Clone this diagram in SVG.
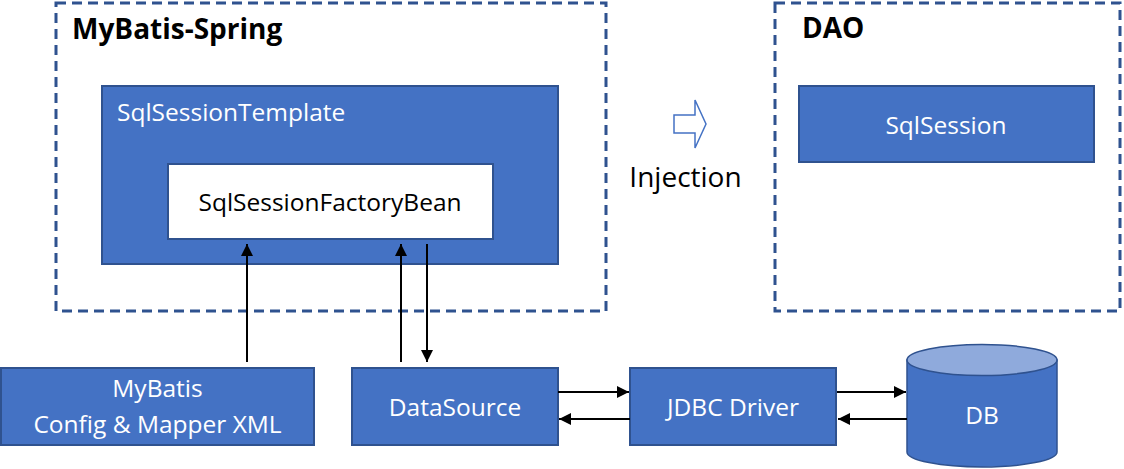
<svg xmlns="http://www.w3.org/2000/svg" width="1124" height="469" viewBox="0 0 1124 469">
<style>
.box{fill:#4472C4;stroke:#2F528F;stroke-width:2}
.grp{fill:none;stroke:#2F528F;stroke-width:3;stroke-dasharray:10 6}
.lbl{font-family:"Open Sans","Noto Sans",sans-serif;font-size:24.5px;fill:#FFFFFF;text-anchor:middle}
.ttl{font-family:"Open Sans","Noto Sans",sans-serif;font-size:28px;font-weight:bold;fill:#000000}
.ln{stroke:#000000;stroke-width:2;fill:none;marker-end:url(#ah)}
</style>
<defs>
<marker id="ah" viewBox="0 0 10 10" refX="10" refY="5" markerWidth="6" markerHeight="6" orient="auto" markerUnits="strokeWidth">
<path d="M0,0 L10,5 L0,10 Z" fill="#000000"/>
</marker>
</defs>
<rect width="1124" height="469" fill="#FFFFFF"/>
<g id="mybatis-spring">
<rect class="grp" x="56" y="3" width="550" height="308"/>
<text class="ttl" x="72" y="39">MyBatis-Spring</text>
</g>
<g id="dao">
<rect class="grp" x="775" y="3" width="345" height="308"/>
<text class="ttl" x="802" y="38">DAO</text>
</g>
<g id="sqlsessiontemplate">
<rect class="box" x="102" y="86" width="456" height="178"/>
<text class="lbl" x="117" y="120.5" style="text-anchor:start">SqlSessionTemplate</text>
</g>
<g id="sqlsessionfactorybean">
<rect x="168" y="164" width="325" height="75" fill="#FFFFFF" stroke="#2F528F" stroke-width="2"/>
<text class="lbl" x="330" y="211" style="fill:#000000">SqlSessionFactoryBean</text>
</g>
<g id="sqlsession">
<rect class="box" x="799" y="86" width="295" height="76"/>
<text class="lbl" x="946" y="134">SqlSession</text>
</g>
<g id="injection">
<path d="M674,115 L695,115 L695,100 L706,124 L695,148 L695,133 L674,133 Z" fill="#FFFFFF" stroke="#4472C4" stroke-width="1.5"/>
<text x="685.5" y="186.5" font-family="'Open Sans','Noto Sans',sans-serif" font-size="28" text-anchor="middle" fill="#000000">Injection</text>
</g>
<g id="mybatis-config">
<rect class="box" x="1" y="368" width="313" height="77"/>
<text class="lbl" x="157.5" y="397">MyBatis</text>
<text class="lbl" x="157.5" y="433">Config &amp; Mapper XML</text>
</g>
<g id="datasource">
<rect class="box" x="352" y="368" width="206" height="77"/>
<text class="lbl" x="455" y="416">DataSource</text>
</g>
<g id="jdbc-driver">
<rect class="box" x="630" y="368" width="206" height="77"/>
<text class="lbl" x="733" y="416">JDBC Driver</text>
</g>
<g id="db">
<path d="M907,360 L907,452 A75,15 0 0 0 1057,452 L1057,360 Z" fill="#4472C4" stroke="#2F528F" stroke-width="1.5"/>
<ellipse cx="982" cy="360" rx="75" ry="15.5" fill="#8FAADC" stroke="#2F528F" stroke-width="1.5"/>
<text class="lbl" x="982" y="424">DB</text>
</g>
<g id="connectors">
<line class="ln" x1="247" y1="362" x2="247" y2="244"/>
<line class="ln" x1="401" y1="362" x2="401" y2="244"/>
<line class="ln" x1="427" y1="244" x2="427" y2="362"/>
<line class="ln" x1="558" y1="392" x2="629" y2="392"/>
<line class="ln" x1="630" y1="419" x2="559" y2="419"/>
<line class="ln" x1="837" y1="392" x2="906" y2="392"/>
<line class="ln" x1="907" y1="419" x2="838" y2="419"/>
</g>
</svg>
